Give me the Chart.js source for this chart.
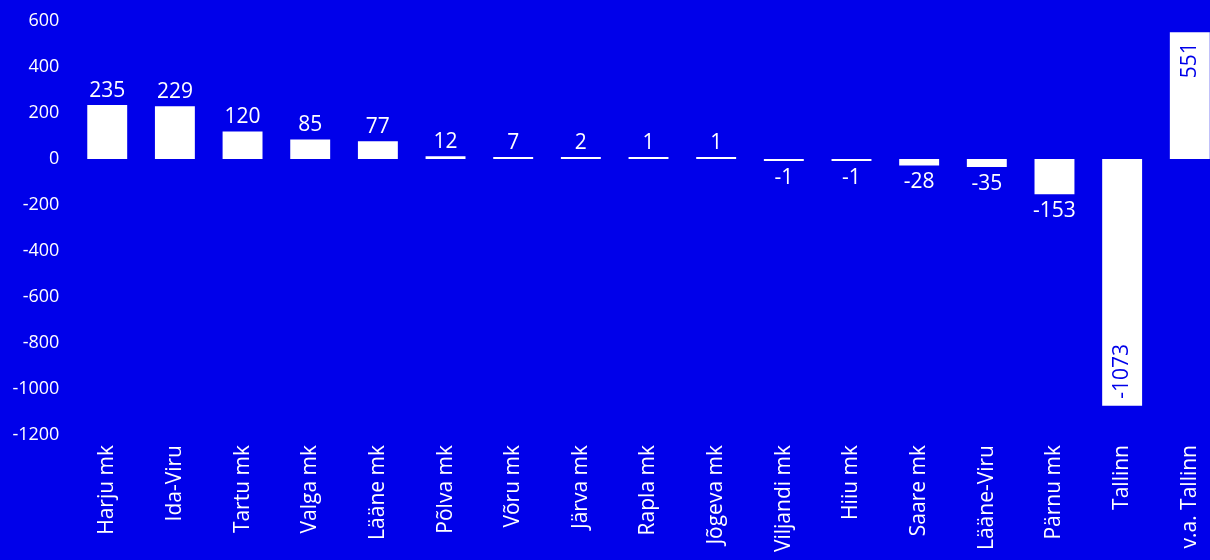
<!DOCTYPE html>
<html>
<head>
<meta charset="utf-8">
<script src="https://cdn.jsdelivr.net/npm/chart.js@4.4.1/dist/chart.umd.min.js"></script>
<style>
  html, body { margin: 0; padding: 0; background: #0000ea; overflow: hidden; width: 1210px; height: 560px; }
  #wrap { position: absolute; left: 0; top: 0; width: 1225px; height: 560px; }
</style>
</head>
<body>
<div id="wrap"><canvas id="c" width="1225" height="560"></canvas></div>
<script>
const categories = ["Harju mk", "Ida-Viru", "Tartu mk", "Valga mk", "Lääne mk", "Põlva mk", "Võru mk", "Järva mk", "Rapla mk", "Jõgeva mk", "Viljandi mk", "Hiiu mk", "Saare mk", "Lääne-Viru", "Pärnu mk", "Tallinn", "v.a. Tallinn"];
const values = [235, 229, 120, 85, 77, 12, 7, 2, 1, 1, -1, -1, -28, -35, -153, -1073, 551];
const yTicks = [-1200, -1000, -800, -600, -400, -200, 0, 200, 400, 600];

const BG = '#0000ea';
const FONT = '"Open Sans", sans-serif';

const labelPlugin = {
  id: 'valueLabels',
  afterDatasetsDraw(chart) {
    const ctx = chart.ctx;
    const meta = chart.getDatasetMeta(0);
    ctx.save();
    ctx.font = '21px ' + FONT;
    meta.data.forEach((bar, i) => {
      const v = values[i];
      const len = Math.abs(bar.base - bar.y);
      const txt = String(v);
      if (len > 100) {
        ctx.save();
        ctx.fillStyle = BG;
        ctx.translate(bar.x, v >= 0 ? bar.y + 10 : bar.y - 7);
        ctx.rotate(-Math.PI / 2);
        ctx.textBaseline = 'middle';
        ctx.textAlign = v >= 0 ? 'right' : 'left';
        ctx.fillText(txt, 0, 0);
        ctx.restore();
      } else {
        ctx.fillStyle = '#ffffff';
        ctx.textAlign = 'center';
        ctx.textBaseline = 'alphabetic';
        if (v >= 0) ctx.fillText(txt, bar.x, Math.min(bar.y, bar.base) - 8);
        else ctx.fillText(txt, bar.x, Math.max(bar.y, bar.base) + 23);
      }
    });
    ctx.restore();
  }
};

new Chart(document.getElementById('c'), {
  type: 'bar',
  data: {
    labels: categories,
    datasets: [{
      data: values,
      backgroundColor: '#ffffff',
      borderWidth: 0,
      categoryPercentage: 1,
      barPercentage: 0.59,
      minBarLength: 2
    }]
  },
  options: {
    responsive: false,
    animation: false,
    layout: { padding: { top: 21, right: 0, left: 0, bottom: 0 } },
    plugins: { legend: { display: false }, tooltip: { enabled: false } },
    scales: {
      x: {
        grid: { display: false, drawTicks: false },
        border: { display: false },
        ticks: {
          color: '#ffffff',
          font: { family: FONT, size: 21 },
          maxRotation: 90, minRotation: 90,
          padding: 10,
          autoSkip: false
        },
        afterFit(scale) { scale.height = 125; }
      },
      y: {
        min: -1200, max: 600,
        grid: { display: false, drawTicks: false },
        border: { display: false },
        afterBuildTicks(scale) { scale.ticks = yTicks.map(v => ({ value: v })); },
        ticks: {
          color: '#ffffff',
          font: { family: FONT, size: 18 },
          padding: 14,
          callback: v => String(v)
        },
        afterFit(scale) { scale.width = 73.4; scale.paddingTop = 0; scale.paddingBottom = 0; }
      }
    }
  },
  plugins: [labelPlugin]
});
</script>
</body>
</html>
